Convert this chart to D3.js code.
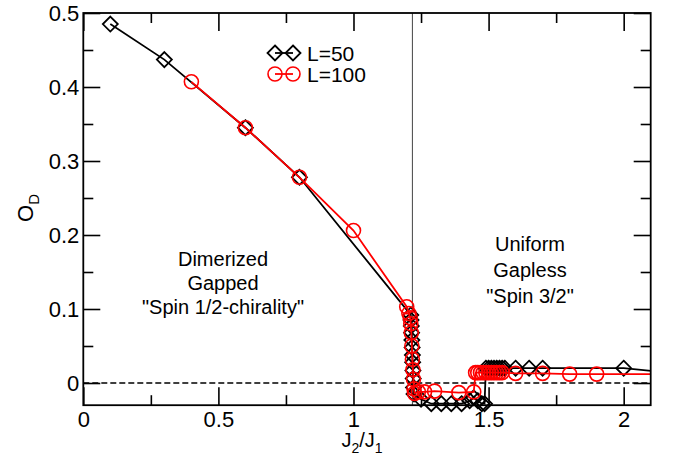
<!DOCTYPE html>
<html>
<head>
<meta charset="utf-8">
<script src="https://cdn.jsdelivr.net/npm/d3@7"></script>
<style>
  body { margin: 0; background: #fff; }
  text { font-family: "Liberation Sans", Arial, sans-serif; }
</style>
</head>
<body>
<div id="my_dataviz"></div>
<script>
// data
const l50X = [0.1, 0.3, 0.6, 0.8, 1.212, 1.213, 1.214, 1.215, 1.216, 1.217, 1.218, 1.219, 1.22, 1.221, 1.222, 1.224, 1.25,
  1.288, 1.325, 1.362, 1.40, 1.43, 1.445, 1.46, 1.475, 1.485, 1.49, 1.50, 1.51, 1.52, 1.53, 1.54, 1.55, 1.56, 1.6, 1.65, 1.7, 2.0, 2.2];
const l50Y = [0.485, 0.437, 0.345, 0.278, 0.092, 0.085, 0.077, 0.068, 0.058, 0.048, 0.038, 0.028, 0.017, 0.006, -0.006, -0.015, -0.022,
  -0.028, -0.028, -0.028, -0.028, -0.024, -0.02, -0.024, -0.028, -0.028, 0.02, 0.02, 0.02, 0.02, 0.02, 0.02, 0.02, 0.02, 0.02, 0.02, 0.02, 0.02, 0.013];

const l100X = [0.4, 0.6, 0.8, 1.0, 1.197, 1.205, 1.21, 1.212, 1.214, 1.216, 1.218, 1.22, 1.222, 1.224, 1.226, 1.24, 1.263,
  1.30, 1.39, 1.445, 1.452, 1.46, 1.47, 1.48, 1.49, 1.50, 1.51, 1.52, 1.53, 1.54, 1.55, 1.6, 1.7, 1.8, 1.9, 2.2];
const l100Y = [0.407, 0.345, 0.278, 0.206, 0.103, 0.094, 0.088, 0.080, 0.068, 0.050, 0.032, 0.018, 0.005, -0.008, -0.014, -0.012, -0.012,
  -0.011, -0.013, -0.012, 0.014, 0.014, 0.014, 0.014, 0.014, 0.014, 0.014, 0.014, 0.014, 0.014, 0.014, 0.013, 0.013, 0.012, 0.012, 0.012];

const xMajor = [0, 0.5, 1, 1.5, 2];
const xMinor = [0.25, 0.75, 1.25, 1.75];
const yMajor = [0, 0.1, 0.2, 0.3, 0.4, 0.5];
const yMinor = [0.05, 0.15, 0.25, 0.35, 0.45];
const criticalJ = 1.218;

const width = 673, height = 459;
const svg = d3.select("#my_dataviz").append("svg")
  .attr("width", width).attr("height", height);

const x = d3.scaleLinear().domain([0, 2.1]).range([83.3, 650.7]);
const y = d3.scaleLinear().domain([-0.03, 0.5]).range([405.2, 13]);
const [x0, x1] = x.range(), [y0, y1] = y.range();

svg.append("clipPath").attr("id", "plotClip")
  .append("rect").attr("x", x0).attr("y", y1).attr("width", x1 - x0).attr("height", y0 - y1);

// ticks (inward, mirrored)
function styleAxis(g) {
  g.select(".domain").remove();
  g.selectAll("line").attr("stroke", "#000").attr("stroke-width", 1.6);
  g.selectAll("text").style("font-size", "22px").attr("fill", "#000");
}
svg.append("g").attr("transform", `translate(0,${y0})`)
  .call(d3.axisBottom(x).tickValues(xMajor).tickSize(-18).tickPadding(6).tickFormat(d3.format("")))
  .call(styleAxis);
svg.append("g").attr("transform", `translate(0,${y0})`)
  .call(d3.axisBottom(x).tickValues(xMinor).tickSize(-10).tickFormat(""))
  .call(styleAxis);
svg.append("g").attr("transform", `translate(0,${y1})`)
  .call(d3.axisTop(x).tickValues(xMajor).tickSize(-18).tickFormat(""))
  .call(styleAxis);
svg.append("g").attr("transform", `translate(0,${y1})`)
  .call(d3.axisTop(x).tickValues(xMinor).tickSize(-10).tickFormat(""))
  .call(styleAxis);
svg.append("g").attr("transform", `translate(${x0},0)`)
  .call(d3.axisLeft(y).tickValues(yMajor).tickSize(-17).tickPadding(4).tickFormat(d3.format("")))
  .call(styleAxis);
svg.append("g").attr("transform", `translate(${x0},0)`)
  .call(d3.axisLeft(y).tickValues(yMinor).tickSize(-10).tickFormat(""))
  .call(styleAxis);
svg.append("g").attr("transform", `translate(${x1},0)`)
  .call(d3.axisRight(y).tickValues(yMajor).tickSize(-17).tickFormat(""))
  .call(styleAxis);
svg.append("g").attr("transform", `translate(${x1},0)`)
  .call(d3.axisRight(y).tickValues(yMinor).tickSize(-10).tickFormat(""))
  .call(styleAxis);

// zero line and transition line
svg.append("line")
  .attr("x1", x0).attr("x2", x1).attr("y1", y(0)).attr("y2", y(0))
  .attr("stroke", "#000").attr("stroke-width", 1.3).attr("stroke-dasharray", "6,3");
svg.append("line")
  .attr("x1", x(criticalJ)).attr("x2", x(criticalJ)).attr("y1", y1).attr("y2", y0)
  .attr("stroke", "#444").attr("stroke-width", 1);

// series
const series = [
  { name: "L=50", color: "#000", shape: "diamond", values: l50X.map((v, i) => ({ x: v, y: l50Y[i] })) },
  { name: "L=100", color: "#ff0000", shape: "circle", values: l100X.map((v, i) => ({ x: v, y: l100Y[i] })) }
];

const line = d3.line().x(d => x(d.x)).y(d => y(d.y));
const diamond = "M0,-7.5L7.5,0L0,7.5L-7.5,0Z";

function drawMarker(g, s, px, py) {
  if (s.shape === "diamond") {
    g.append("path").attr("d", diamond).attr("transform", `translate(${px},${py})`)
      .attr("fill", "none").attr("stroke", s.color).attr("stroke-width", 1.8);
  } else {
    g.append("circle").attr("cx", px).attr("cy", py).attr("r", 7)
      .attr("fill", "none").attr("stroke", s.color).attr("stroke-width", 1.6);
  }
}

series.forEach(s => {
  const g = svg.append("g");
  g.append("path").datum(s.values)
    .attr("clip-path", "url(#plotClip)")
    .attr("d", line).attr("fill", "none")
    .attr("stroke", s.color).attr("stroke-width", 1.8);
  s.values.filter(d => d.x <= x.domain()[1]).forEach(d => drawMarker(g, s, x(d.x), y(d.y)));
});

// legend
series.forEach((s, i) => {
  const ly = 53 + i * 21;
  const g = svg.append("g");
  g.append("line").attr("x1", 275).attr("x2", 293).attr("y1", ly).attr("y2", ly)
    .attr("stroke", s.color).attr("stroke-width", 1.8);
  drawMarker(g, s, 275, ly);
  drawMarker(g, s, 293, ly);
  g.append("text").attr("x", 307).attr("y", ly + 7.5).text(s.name)
    .style("font-size", "21px");
});

// annotations
const leftNote = ["Dimerized", "Gapped", "\"Spin 1/2-chirality\""];
const rightNote = ["Uniform", "Gapless", "\"Spin 3/2\""];
svg.append("g").selectAll("text").data(leftNote).join("text")
  .attr("x", 223).attr("y", (d, i) => 266 + i * 24)
  .attr("text-anchor", "middle").style("font-size", "20px").text(d => d);
svg.append("g").selectAll("text").data(rightNote).join("text")
  .attr("x", 530).attr("y", (d, i) => 251 + i * 26)
  .attr("text-anchor", "middle").style("font-size", "20px").text(d => d);

// frame
svg.append("rect").attr("x", x0).attr("y", y1).attr("width", x1 - x0).attr("height", y0 - y1)
  .attr("fill", "none").attr("stroke", "#000").attr("stroke-width", 1.8);

// axis titles
const xt = svg.append("text").attr("x", 362).attr("y", 447).attr("text-anchor", "middle").style("font-size", "20px");
xt.append("tspan").text("J");
xt.append("tspan").attr("dy", 6).style("font-size", "14px").text("2");
xt.append("tspan").attr("dy", -6).text("/J");
xt.append("tspan").attr("dy", 6).style("font-size", "14px").text("1");

const yt = svg.append("text").attr("transform", "translate(33,208) rotate(-90)")
  .attr("text-anchor", "middle").style("font-size", "22px");
yt.append("tspan").text("O");
yt.append("tspan").attr("dy", 6).style("font-size", "15px").text("D");
</script>
</body>
</html>
